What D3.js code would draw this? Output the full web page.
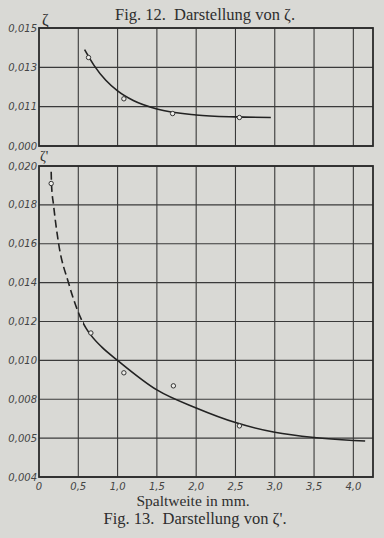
<!DOCTYPE html>
<html>
<head>
<meta charset="utf-8">
<script src="https://cdn.jsdelivr.net/npm/d3@7"></script>
<style>
  body { margin: 0; background: #d9d9d5; }
  .tick-label { font-family: "DejaVu Sans", sans-serif; font-style: italic; fill: #444; }
  .caption { font-family: "Liberation Serif", "DejaVu Serif", serif; fill: #2e2e2e; white-space: pre; }
</style>
</head>
<body>
<div id="chart"></div>
<script>
// x-axis (Spaltweite in mm), shared by both figures
const xTicks = [0, 0.5, 1.0, 1.5, 2.0, 2.5, 3.0, 3.5, 4.0];
const xTickLabels = ["0", "0,5", "1,0", "1,5", "2,0", "2,5", "3,0", "3,5", "4,0"];

// Fig. 12: zeta
const zetaTicks = [0.015, 0.013, 0.011, 0.009];
const zetaTickLabels = ["0,015", "0,013", "0,011", "0,000"];
const zetaCurveX = [0.58, 0.7, 0.85, 1.0, 1.2, 1.5, 2.0, 2.5, 2.95];
const zetaCurveY = [0.0139, 0.0131, 0.01234, 0.0118, 0.01131, 0.01088, 0.01058, 0.01048, 0.01045];
const zetaPointX = [0.63, 1.08, 1.70, 2.55];
const zetaPointY = [0.0135, 0.0114, 0.01065, 0.01045];

// Fig. 13: zeta' (the part left of dashEnd is drawn dashed)
const zeta2Ticks = [0.020, 0.018, 0.016, 0.014, 0.012, 0.010, 0.008, 0.006, 0.004];
const zeta2TickLabels = ["0,020", "0,018", "0,016", "0,014", "0,012", "0,010", "0,008", "0,005", "0,004"];
const zeta2CurveX = [0.155, 0.16, 0.185, 0.25, 0.375, 0.54, 0.6, 0.66, 0.8, 1.0, 1.5, 2.0, 2.5, 3.0, 3.5, 4.0, 4.15];
const zeta2CurveY = [0.0197, 0.0190, 0.0180, 0.0160, 0.0140, 0.0121, 0.01165, 0.0113, 0.01068, 0.0100, 0.00848, 0.00755, 0.00680, 0.00630, 0.00603, 0.00588, 0.00585];
const dashEnd = 0.56;
const zeta2PointX = [0.155, 0.66, 1.08, 1.71, 2.55];
const zeta2PointY = [0.0191, 0.01141, 0.00936, 0.00869, 0.00663];

const width = 384, height = 538;

const svg = d3.select("#chart").append("svg")
    .attr("width", width)
    .attr("height", height);

svg.append("rect")
    .attr("width", width)
    .attr("height", height)
    .attr("fill", "#d9d9d5");

const xScale = d3.scaleLinear().domain([0, 4.25]).range([39, 373]);
const yTop = d3.scaleLinear().domain([0.009, 0.015]).range([146, 28]);
const yBottom = d3.scaleLinear().domain([0.004, 0.020]).range([477, 166]);

function zip(xs, ys) {
    return xs.map((x, i) => [x, ys[i]]);
}

// clip regions for the dashed / solid parts of the zeta' curve
const defs = svg.append("defs");
defs.append("clipPath").attr("id", "clip-dash")
    .append("rect")
    .attr("x", 0).attr("y", 0)
    .attr("width", xScale(dashEnd)).attr("height", height);
defs.append("clipPath").attr("id", "clip-solid")
    .append("rect")
    .attr("x", xScale(dashEnd)).attr("y", 0)
    .attr("width", width).attr("height", height);

// draw one panel: grid, frame and y tick labels
function drawPanel(yScale, ticks, labels) {
    const g = svg.append("g");
    const [y0, y1] = yScale.range();

    // vertical grid lines
    g.selectAll(".vgrid")
        .data(xTicks.slice(1))
        .join("line")
        .attr("x1", d => xScale(d))
        .attr("x2", d => xScale(d))
        .attr("y1", y1)
        .attr("y2", y0)
        .attr("stroke", "#3a3a3a")
        .attr("stroke-width", 1.1);

    // horizontal grid lines
    g.selectAll(".hgrid")
        .data(ticks)
        .join("line")
        .attr("x1", xScale.range()[0])
        .attr("x2", xScale.range()[1])
        .attr("y1", d => yScale(d))
        .attr("y2", d => yScale(d))
        .attr("stroke", "#3a3a3a")
        .attr("stroke-width", 1.1);

    // frame
    g.append("rect")
        .attr("x", xScale.range()[0])
        .attr("y", y1)
        .attr("width", xScale.range()[1] - xScale.range()[0])
        .attr("height", y0 - y1)
        .attr("fill", "none")
        .attr("stroke", "#2a2a2a")
        .attr("stroke-width", 1.8);

    // y tick labels
    g.selectAll(".ylab")
        .data(ticks)
        .join("text")
        .attr("class", "tick-label")
        .attr("x", 37)
        .attr("y", d => yScale(d))
        .attr("dy", "0.35em")
        .attr("text-anchor", "end")
        .attr("font-size", 10)
        .text((d, i) => labels[i]);

    return g;
}

function drawCurve(g, yScale, pts, dashed, clip) {
    const line = d3.line()
        .x(d => xScale(d[0]))
        .y(d => yScale(d[1]))
        .curve(d3.curveMonotoneX);
    g.append("path")
        .datum(pts)
        .attr("d", line)
        .attr("fill", "none")
        .attr("stroke", "#222")
        .attr("stroke-width", 1.6)
        .attr("stroke-dasharray", dashed ? "8,4" : null)
        .attr("clip-path", clip ? `url(#${clip})` : null);
}

function drawPoints(g, yScale, pts) {
    g.selectAll(".pt")
        .data(pts)
        .join("circle")
        .attr("cx", d => xScale(d[0]))
        .attr("cy", d => yScale(d[1]))
        .attr("r", 2.2)
        .attr("fill", "#eeeeea")
        .attr("stroke", "#333")
        .attr("stroke-width", 1);
}

// Fig. 12
const topPanel = drawPanel(yTop, zetaTicks, zetaTickLabels);
drawCurve(topPanel, yTop, zip(zetaCurveX, zetaCurveY), false, null);
drawPoints(topPanel, yTop, zip(zetaPointX, zetaPointY));

// Fig. 13
const bottomPanel = drawPanel(yBottom, zeta2Ticks, zeta2TickLabels);
const zeta2Pts = zip(zeta2CurveX, zeta2CurveY);
drawCurve(bottomPanel, yBottom, zeta2Pts, true, "clip-dash");
drawCurve(bottomPanel, yBottom, zeta2Pts, false, "clip-solid");
drawPoints(bottomPanel, yBottom, zip(zeta2PointX, zeta2PointY));

// x tick labels under Fig. 13
svg.selectAll(".xlab")
    .data(xTicks)
    .join("text")
    .attr("class", "tick-label")
    .attr("x", d => xScale(d))
    .attr("y", 490)
    .attr("text-anchor", "middle")
    .attr("font-size", 10)
    .text((d, i) => xTickLabels[i]);

// axis symbols
svg.append("text")
    .attr("class", "caption")
    .attr("x", 42)
    .attr("y", 25)
    .attr("font-size", 16)
    .text("ζ");

svg.append("text")
    .attr("class", "caption")
    .attr("x", 40)
    .attr("y", 161)
    .attr("font-size", 14)
    .text("ζ'");

// captions
svg.append("text")
    .attr("class", "caption")
    .attr("x", 205)
    .attr("y", 20)
    .attr("text-anchor", "middle")
    .attr("font-size", 16.5)
    .text("Fig. 12.  Darstellung von ζ.");

svg.append("text")
    .attr("class", "caption")
    .attr("x", 193)
    .attr("y", 506)
    .attr("text-anchor", "middle")
    .attr("font-size", 15.5)
    .text("Spaltweite in mm.");

svg.append("text")
    .attr("class", "caption")
    .attr("x", 195)
    .attr("y", 524)
    .attr("text-anchor", "middle")
    .attr("font-size", 16.5)
    .text("Fig. 13.  Darstellung von ζ'.");
</script>
</body>
</html>
